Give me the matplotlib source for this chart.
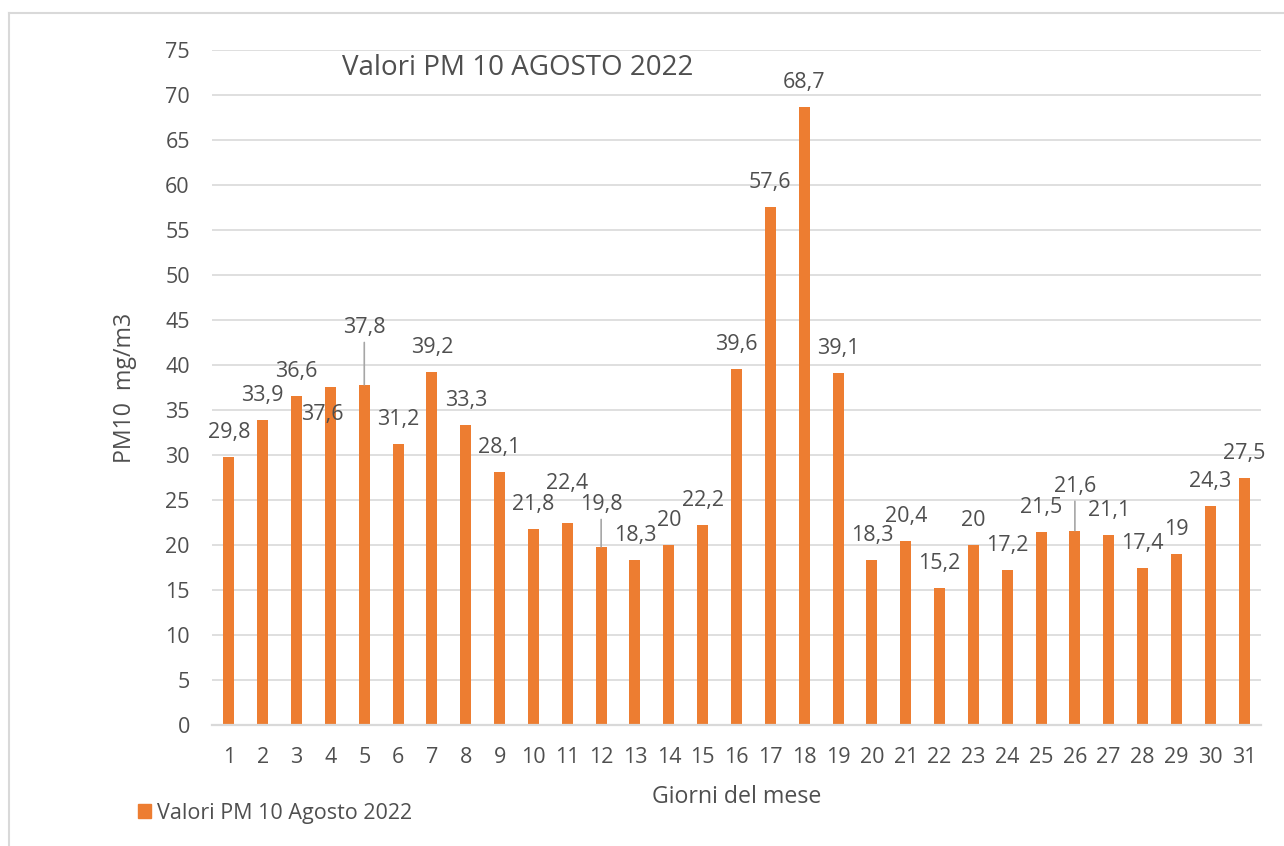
import matplotlib.pyplot as plt
from matplotlib.lines import Line2D
from matplotlib.patches import Patch

plt.rcParams['font.family'] = ['Open Sans', 'DejaVu Sans']

# giorni del mese e valori PM10
giorni = [str(d) for d in range(1, 32)]
valori = [29.8, 33.9, 36.6, 37.6, 37.8, 31.2, 39.2, 33.3, 28.1, 21.8,
          22.4, 19.8, 18.3, 20, 22.2, 39.6, 57.6, 68.7, 39.1, 18.3,
          20.4, 15.2, 20, 17.2, 21.5, 21.6, 21.1, 17.4, 19, 24.3, 27.5]

# label offsets in pixels (dx, dy) - default above the bar
std = (0, 24.5)
offsets = {3: (-8, -28), 4: (0, 57), 10: (0, 40), 11: (0, 42), 25: (0, 44)}
leaders = [4, 11, 25]

orange = '#ED7D31'
grey_txt = '#4F4F4F'
grid_col = '#D9D9D9'
fs = 15.5

W, H = 1284, 846
fig = plt.figure(figsize=(W / 100, H / 100), dpi=100)
ax = fig.add_axes([212 / W, 1 - 725 / H, (1261 - 212) / W, (725 - 50) / H])

x = range(len(giorni))
ax.bar(x, valori, width=0.325, color=orange, zorder=2)

ax.set_xlim(-0.5, len(giorni) - 0.5)
ax.set_ylim(0, 75)
ax.set_yticks(range(0, 80, 5))
ax.set_xticks(list(x))
ax.set_xticklabels(giorni)

ax.yaxis.grid(True, color=grid_col, lw=1.2)
ax.set_axisbelow(True)
for s in ['top', 'right', 'left']:
    ax.spines[s].set_visible(False)
ax.spines['bottom'].set_color(grid_col)
ax.spines['bottom'].set_linewidth(1.6)
ax.spines['bottom'].set_zorder(3)
ax.tick_params(axis='both', length=0, labelsize=fs, colors=grey_txt)
ax.tick_params(axis='y', pad=16)
ax.tick_params(axis='x', pad=16)

for i, v in enumerate(valori):
    dx, dy = offsets.get(i, std)
    lab = f"{v:g}".replace('.', ',')
    kw = {}
    if i in leaders:
        kw['arrowprops'] = dict(arrowstyle='-', color='#A6A6A6', lw=1.2,
                                shrinkA=1, shrinkB=0)
    ax.annotate(lab, (i, v), xytext=(dx, dy), textcoords='offset pixels',
                ha='center', va='center', fontsize=fs, color=grey_txt, **kw)

ax.set_ylabel('PM10  mg/m3', fontsize=16.7, color=grey_txt, va='center')
ax.yaxis.set_label_coords((125 - 212) / (1261 - 212), 0.5)
ax.set_xlabel('Giorni del mese', fontsize=16.7, color=grey_txt, va='center')
ax.xaxis.set_label_coords(0.5, -(797 - 725) / (725 - 50))

fig.text(342 / W, 1 - 68 / H, 'Valori PM 10 AGOSTO 2022', fontsize=20,
         color=grey_txt, ha='left', va='center')

fig.legend(handles=[Patch(color=orange, label='Valori PM 10 Agosto 2022')],
           loc='center left', bbox_to_anchor=(138 / W, 1 - 813 / H),
           frameon=False, borderpad=0, borderaxespad=0, fontsize=fs,
           handlelength=0.6, handleheight=0.65, handletextpad=0.3,
           labelcolor=grey_txt)

# chart border (only top and left visible)
fig.add_artist(Line2D([9 / W, 9 / W], [0, 1 - 13 / H], color=grid_col,
                      lw=1.5, transform=fig.transFigure))
fig.add_artist(Line2D([9 / W, 1], [1 - 13 / H, 1 - 13 / H], color=grid_col,
                      lw=1.5, transform=fig.transFigure))

fig.savefig('out.png', dpi=100)
